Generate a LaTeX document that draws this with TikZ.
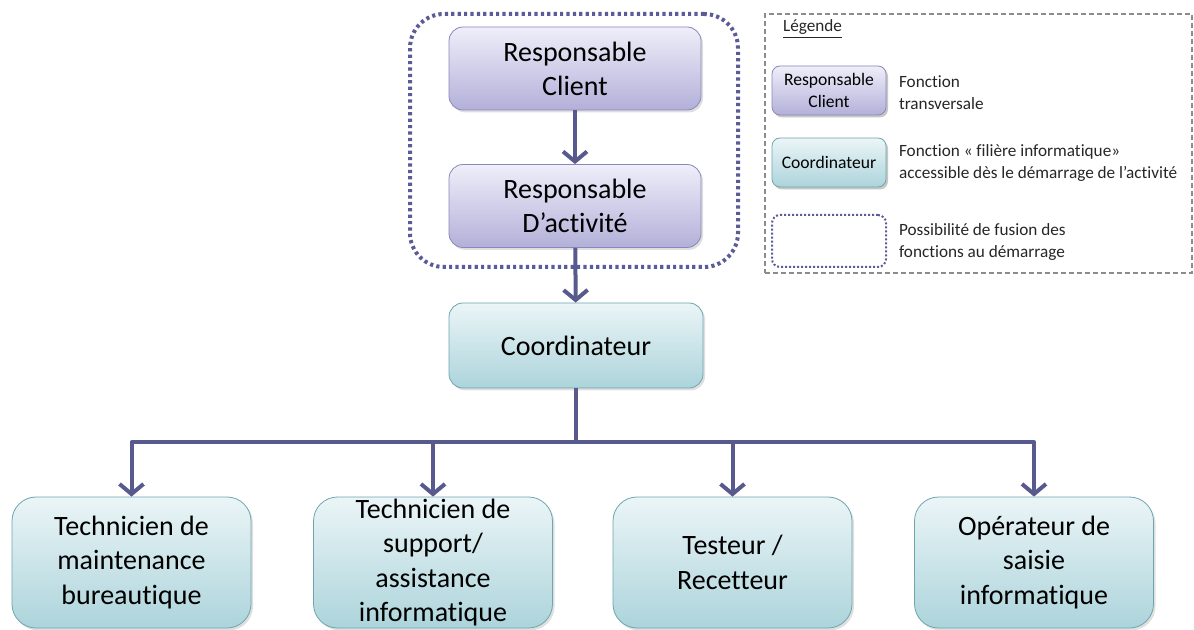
\documentclass[tikz,border=0pt]{standalone}
\usepackage{fontspec}
\setmainfont{Carlito}[Ligatures={NoCommon}]
\usetikzlibrary{arrows.meta,shadows}
\definecolor{lnk}{HTML}{585A8E}
\definecolor{vtop}{HTML}{EFEEF9}
\definecolor{vbot}{HTML}{B3B0D9}
\definecolor{vbrd}{HTML}{8A87BA}
\definecolor{ttop}{HTML}{EBF5F7}
\definecolor{tbot}{HTML}{ACD4DB}
\definecolor{tbrd}{HTML}{6EA5AE}
\definecolor{grp}{HTML}{5B5B97}

\begin{document}
\begin{tikzpicture}[x=0.5pt, y=-0.5pt, font=\fontsize{14}{17}\selectfont,
  shad/.style={drop shadow={shadow xshift=1pt, shadow yshift=-1.2pt, opacity=0.25}},
  trans/.style={draw=vbrd, top color=vtop, bottom color=vbot, rounded corners=7pt, minimum width=126pt, minimum height=41.5pt, align=center, inner sep=1pt, shad},
  filiere/.style={draw=tbrd, top color=ttop, bottom color=tbot, rounded corners=7pt, minimum width=127pt, minimum height=42.5pt, align=center, inner sep=1pt, shad},
  metier/.style={filiere, rounded corners=12pt, minimum width=119.5pt, minimum height=65.5pt, inner ysep=0pt, font=\fontsize{14}{17.3}\selectfont},
  link/.style={draw=lnk, line width=2pt, line join=round},
  linkarr/.style={link, -{Straight Barb[length=5pt, width=12pt, line width=2pt]}},
  fusion/.style={draw=grp, line width=2pt, dash pattern=on 1.6pt off 1.6pt, rounded corners=17pt},
  legtxt/.style={anchor=west, align=left, font=\fontsize{8.6}{11}\selectfont, text=black!85},
  legsmall/.style={font=\fontsize{8.8}{11}\selectfont, minimum width=57pt, minimum height=24.5pt, rounded corners=4pt, shad}]
\useasboundingbox (0,0) rectangle (1194,630);
% groupe des fonctions transverses
\node[fusion, minimum width=164pt, minimum height=126.5pt] (groupe) at (574,140.5) {};
\node[trans] (rclient) at (575,68.5) {Responsable\\Client};
\node[trans] (ractiv) at (575,206) {Responsable\\D’activité};
\node[filiere] (coord) at (576,345.5) {Coordinateur};
\draw[linkarr] (rclient) -- (ractiv);
\draw[linkarr] (ractiv) -- (coord);
% fonctions de la filiere
\node[metier] (maint) at (131.5,562.5) {Technicien de\\maintenance\\bureautique};
\node[metier] (supp) at (433,562.5) {Technicien de\\support/\\assistance\\informatique};
\node[metier] (test) at (732.5,562.5) {Testeur /\\Recetteur};
\node[metier] (oper) at (1034,562.5) {Opérateur de\\saisie\\informatique};
\coordinate (bus) at (576,442);
\draw[link] (coord) -- (bus);
\foreach \b in {maint,supp,test,oper} \draw[linkarr] (bus) -| (\b.north);
% legende
\node[draw=black!45, line width=0.8pt, dash pattern=on 2.5pt off 1.5pt, minimum width=213.5pt, minimum height=129.5pt] (legende) at (978.5,143.5) {};
\node[legtxt] (legtitre) at (776,29) {\underline{Légende}};
\node[trans, legsmall, align=center] (legtrans) at (829,90.5) {Responsable\\Client};
\node[legtxt] (legtrtxt) at (892,93) {Fonction\\transversale};
\node[filiere, legsmall] (legfil) at (829,162.5) {Coordinateur};
\node[legtxt] (legfiltxt) at (892,163) {Fonction « filière informatique»\\accessible dès le démarrage de l’activité};
\node[draw=grp, line width=1pt, dash pattern=on 1pt off 1pt, rounded corners=4pt, minimum width=57pt, minimum height=26pt] (legfus) at (829,241) {};
\node[legtxt] (legfustxt) at (892,242) {Possibilité de fusion des\\fonctions au démarrage};
\end{tikzpicture}
\end{document}
